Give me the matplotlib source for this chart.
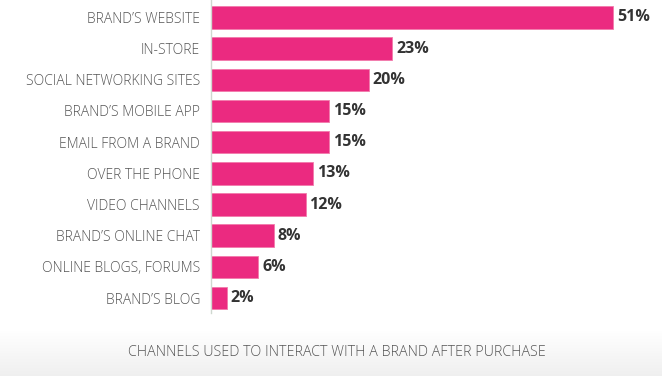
import matplotlib
matplotlib.use("Agg")
import matplotlib.pyplot as plt
import numpy as np

categories = ["BRAND\u2019S WEBSITE", "IN-STORE", "SOCIAL NETWORKING SITES", "BRAND\u2019S MOBILE APP",
              "EMAIL FROM A BRAND", "OVER THE PHONE", "VIDEO CHANNELS", "BRAND\u2019S ONLINE CHAT",
              "ONLINE BLOGS, FORUMS", "BRAND\u2019S BLOG"]
values = [51, 23, 20, 15, 15, 13, 12, 8, 6, 2]
title = "CHANNELS USED TO INTERACT WITH A BRAND AFTER PURCHASE"

W, H = 662, 376
fig = plt.figure(figsize=(W / 100, H / 100), dpi=100)
fig.patch.set_facecolor("white")

# bottom gradient background
bg = fig.add_axes([0, 0, 1, 1], zorder=-10)
grad = np.ones((H, 1))
ys = np.arange(H)
grad[:, 0] = np.clip((ys - 330) / (H - 330), 0, 1)
bg.imshow(grad, cmap=matplotlib.colors.LinearSegmentedColormap.from_list("g", ["#ffffff", "#efefef"]),
          aspect="auto", extent=[0, 1, 0, 1], origin="upper", vmin=0, vmax=1)
bg.axis("off")

x0 = 211
x51 = 613
ppu = (x51 - x0) / 51
ax = fig.add_axes([x0 / W, (H - 313) / H, (W - x0) / W, 313 / H])
ax.set_facecolor("none")
y = np.arange(len(categories))
ax.barh(y, values, height=0.72, color="#eb2a80", edgecolor="#f27aab", linewidth=0.6)
ax.set_xlim(0, (W - x0) / ppu)
ax.set_ylim(9 + 15 / 31.17, -17.5 / 31.17)
for s in ["top", "right", "bottom"]:
    ax.spines[s].set_visible(False)
ax.spines["left"].set_color("#cfd8d0")
ax.spines["left"].set_linewidth(1.0)
ax.set_xticks([])
ax.set_yticks(y)
ax.set_yticklabels(categories, fontfamily="Open Sans", fontsize=10, color="#555555", fontweight="light")
ax.tick_params(axis="y", length=0, pad=8)
for yi, v in zip(y, values):
    ax.text(v + 0.5, yi, f"{v}%", va="center", ha="left", fontfamily="Open Sans",
            fontsize=11.5, fontweight="bold", color="#333333")

fig.text(337 / W, 1 - 353 / H, title, ha="center", va="center", fontfamily="Open Sans",
         fontsize=10.3, color="#555555", fontweight="light")

fig.savefig("out.png", dpi=100)
